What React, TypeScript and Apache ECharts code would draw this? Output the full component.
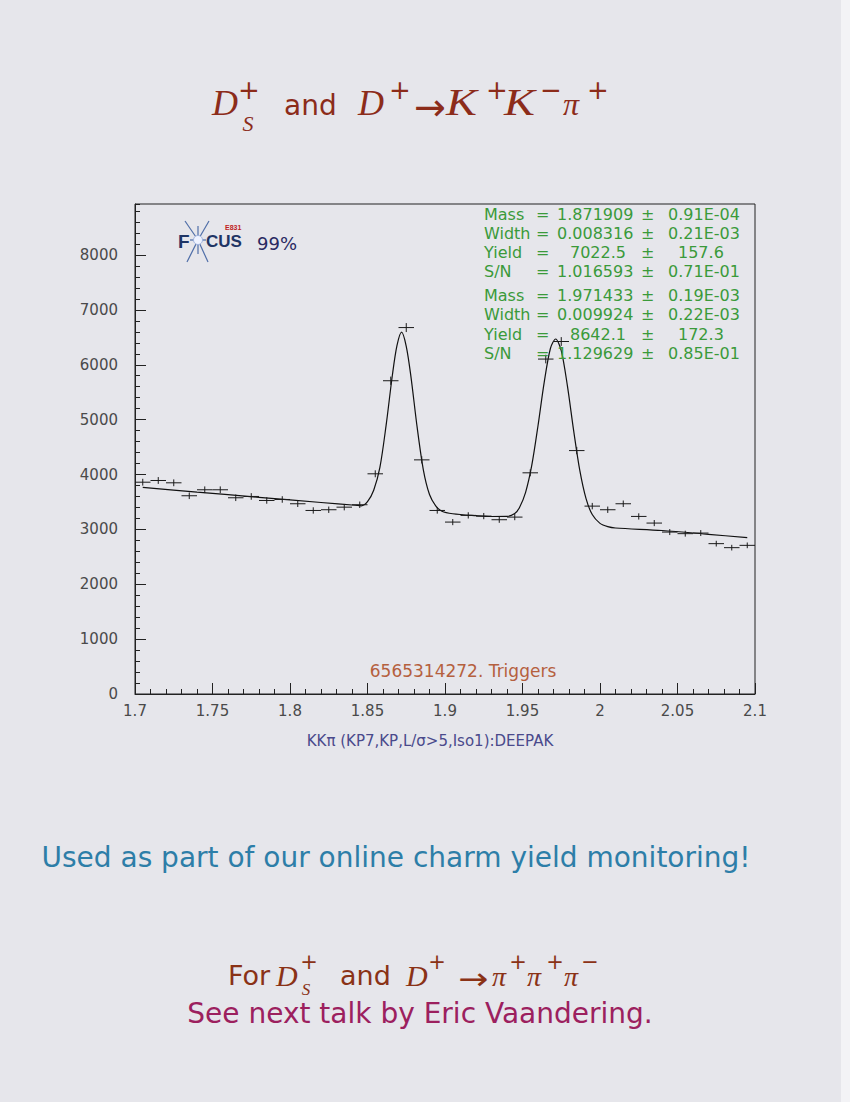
import { useEffect, useRef } from "react";
import * as echarts from "echarts";

// ---- data ----
const binCenters = [
  1.705, 1.715, 1.725, 1.735, 1.745, 1.755, 1.765, 1.775, 1.785, 1.795,
  1.805, 1.815, 1.825, 1.835, 1.845, 1.855, 1.865, 1.875, 1.885, 1.895,
  1.905, 1.915, 1.925, 1.935, 1.945, 1.955, 1.965, 1.975, 1.985, 1.995,
  2.005, 2.015, 2.025, 2.035, 2.045, 2.055, 2.065, 2.075, 2.085, 2.095,
];
const counts = [
  3860, 3891, 3849, 3613, 3722, 3722, 3576, 3600, 3527, 3545,
  3467, 3345, 3358, 3405, 3449, 4013, 5709, 6678, 4267, 3345,
  3133, 3255, 3242, 3176, 3224, 4031, 6104, 6424, 4436, 3424,
  3358, 3467, 3236, 3115, 2951, 2922, 2933, 2740, 2667, 2709,
];
// fit curve, points
const fitX = [
  1.705, 1.74, 1.78, 1.82, 1.842, 1.846, 1.85, 1.854, 1.858, 1.862,
  1.866, 1.869, 1.872, 1.875, 1.878, 1.882, 1.886, 1.89, 1.894, 1.898,
  1.905, 1.92, 1.93, 1.94, 1.945, 1.948, 1.952, 1.956, 1.96, 1.964,
  1.968, 1.9714, 1.975, 1.979, 1.983, 1.987, 1.991, 1.995, 2.0, 2.005,
  2.01, 2.04, 2.07, 2.095,
];
const fitY = [
  3765, 3680, 3585, 3490, 3440, 3430, 3506, 3713, 4130, 4896,
  5800, 6347, 6595, 6337, 5790, 4867, 4091, 3635, 3430, 3330,
  3285, 3250, 3235, 3237, 3290, 3395, 3676, 4170, 4889, 5680,
  6297, 6470, 6258, 5610, 4800, 4070, 3560, 3270, 3110, 3050,
  3025, 2980, 2910, 2849,
];
const statLabels = ["Mass", "Width", "Yield", "S/N"];
const peak1Values = ["1.871909", "0.008316", "7022.5", "1.016593"];
const peak1Errors = ["0.91E-04", "0.21E-03", "157.6", "0.71E-01"];
const peak2Values = ["1.971433", "0.009924", "8642.1", "1.129629"];
const peak2Errors = ["0.19E-03", "0.22E-03", "172.3", "0.85E-01"];
const triggersText = "6565314272. Triggers";
const xAxisTitle = "KKπ (KP7,KP,L/σ>5,Iso1):DEEPAK";

const SERIF_I = (s: number) => `italic ${s}px "Liberation Serif"`;
const SANS = (s: number) => `${s}px "DejaVu Sans"`;

function T(
  text: string,
  x: number,
  y: number,
  font: string,
  fill: string,
  align: string = "left",
  scaleX: number = 1
) {
  return {
    type: "text",
    x,
    y,
    scaleX,
    z: 10,
    style: { text, font, fill, align, verticalAlign: "middle" },
  };
}

export default function App() {
  const ref = useRef<HTMLDivElement>(null);
  useEffect(() => {
    document.body.style.margin = "0";
    const chart = echarts.init(ref.current!, null, { renderer: "svg" });

    const red = "#8c2c1a";
    const title = [
      T("D", 212, 103, SERIF_I(36), red),
      T("+", 249, 90, SANS(26), red, "center"),
      T("S", 248, 123, SERIF_I(22), red, "center"),
      T("and", 284, 105, SANS(28), red),
      T("D", 358, 103, SERIF_I(36), red),
      T("+", 400, 90, SANS(26), red, "center"),
      T("→", 430, 107, SANS(38), red, "center"),
      T("K", 446, 103, SERIF_I(37), red, "left", 1.25),
      T("+", 497, 90, SANS(26), red, "center"),
      T("K", 504, 103, SERIF_I(37), red, "left", 1.25),
      T("−", 551, 90, SANS(26), red, "center"),
      T("π", 563, 104, SERIF_I(32), red),
      T("+", 598, 90, SANS(26), red, "center"),
    ];
    const brown = "#8a3216";
    const footer = [
      T("For", 228, 975, SANS(27), brown),
      T("D", 276, 975, SERIF_I(30), brown),
      T("+", 309, 962, SANS(21), brown, "center"),
      T("S", 306, 989, SERIF_I(17), brown, "center"),
      T("and", 340, 975, SANS(27), brown),
      T("D", 406, 975, SERIF_I(30), brown),
      T("+", 437, 962, SANS(21), brown, "center"),
      T("→", 473, 979, SANS(30), brown, "center", 1.2),
      T("π", 492, 976, SERIF_I(28), brown),
      T("+", 518, 962, SANS(21), brown, "center"),
      T("π", 527, 976, SERIF_I(28), brown),
      T("+", 555, 962, SANS(21), brown, "center"),
      T("π", 564, 976, SERIF_I(28), brown),
      T("−", 590, 962, SANS(21), brown, "center"),
      T("See next talk by Eric Vaandering.", 420, 1013, SANS(28), "#9c205e", "center"),
    ];
    const monitor = [
      T("Used as part of our online charm yield monitoring!", 396, 857, SANS(28), "#2d7ea8", "center"),
    ];

    const green = "#3a9a3a";
    const stats: any[] = [];
    const rowsY = [214, 233.3, 252.7, 271.7, 295.7, 314.3, 334, 353.3];
    for (let g = 0; g < 2; g++) {
      const vals = g === 0 ? peak1Values : peak2Values;
      const errs = g === 0 ? peak1Errors : peak2Errors;
      for (let i = 0; i < 4; i++) {
        const y = rowsY[g * 4 + i];
        const isYield = statLabels[i] === "Yield";
        stats.push(T(statLabels[i], 484, y, SANS(16), green));
        stats.push(T("=", 536, y, SANS(16), green));
        stats.push(T(vals[i], isYield ? 570 : 557, y, SANS(16), green));
        stats.push(T("±", 641, y, SANS(16), green));
        stats.push(T(errs[i], isYield ? 678 : 668, y, SANS(16), green));
      }
    }

    const navy = "#1f3565";
    const cx = 198, cy = 240;
    const spikes = [
      [-13, -19], [11, -19], [-11, 22], [10, 22], [-8, 0], [8, 0], [0, -14], [0, 14],
    ];
    const logo: any[] = spikes.map(([dx, dy]) => ({
      type: "line",
      z: 10,
      shape: { x1: cx, y1: cy, x2: cx + dx, y2: cy + dy },
      style: { stroke: "#4f6ea8", lineWidth: 1.2 },
    }));
    logo.push({
      type: "circle",
      z: 11,
      shape: { cx, cy, r: 4.5 },
      style: { fill: "#eef2ff", stroke: "#9fb3dd", lineWidth: 1 },
    });
    logo.push(T("F", 178, 241, `bold 19px "Liberation Sans"`, navy));
    logo.push(T("CUS", 206, 241, `bold 17px "Liberation Sans"`, navy));
    logo.push(T("E831", 225, 227, `bold 7px "Liberation Sans"`, "#c02222"));
    logo.push(T("99%", 257, 243, SANS(18), "#2a2a62"));

    const others = [
      T(triggersText, 463, 671, SANS(17), "#b5603e", "center"),
      T(xAxisTitle, 430, 741, SANS(15), "#4a4a8c", "center"),
      {
        type: "rect",
        z: 0,
        shape: { x: 841, y: 0, width: 9, height: 1102 },
        style: { fill: "#f3f3f6" },
      },
    ];

    const axisLineStyle = { color: "#222", width: 1 };
    const option: any = {
      animation: false,
      backgroundColor: "#e6e6eb",
      grid: {
        left: 135,
        top: 204,
        width: 620,
        height: 490,
        show: true,
        borderColor: "#222",
        borderWidth: 1,
        backgroundColor: "transparent",
      },
      xAxis: [
        {
          type: "value",
          min: 1.7,
          max: 2.1,
          interval: 0.01,
          position: "bottom",
          axisLine: { show: true, lineStyle: axisLineStyle },
          axisTick: { show: true, inside: true, length: 5, lineStyle: axisLineStyle },
          axisLabel: { show: false },
          splitLine: { show: false },
        },
        {
          type: "value",
          min: 1.7,
          max: 2.1,
          interval: 0.05,
          position: "bottom",
          axisLine: { show: false },
          axisTick: { show: true, inside: true, length: 11, lineStyle: axisLineStyle },
          axisLabel: {
            show: true,
            margin: 9,
            color: "#4a4a4a",
            fontFamily: "DejaVu Sans",
            fontSize: 15,
            formatter: (v: number) => String(+v.toFixed(2)),
          },
          splitLine: { show: false },
        },
      ],
      yAxis: [
        {
          type: "value",
          min: 0,
          max: 8930,
          interval: 200,
          axisLine: { show: true, lineStyle: axisLineStyle },
          axisTick: { show: true, inside: true, length: 5, lineStyle: axisLineStyle },
          axisLabel: { show: false },
          splitLine: { show: false },
        },
        {
          type: "value",
          min: 0,
          max: 8930,
          interval: 1000,
          position: "left",
          axisLine: { show: false },
          axisTick: { show: true, inside: true, length: 11, lineStyle: axisLineStyle },
          axisLabel: {
            show: true,
            margin: 17,
            color: "#4a4a4a",
            fontFamily: "DejaVu Sans",
            fontSize: 15,
            showMaxLabel: false,
            formatter: (v: number) => (Math.round(v) % 1000 === 0 ? String(Math.round(v)) : ""),
          },
          splitLine: { show: false },
        },
      ],
      series: [
        {
          type: "line",
          xAxisIndex: 0,
          yAxisIndex: 0,
          data: fitX.map((x, i) => [x, fitY[i]]),
          smooth: 0.3,
          showSymbol: false,
          symbol: "none",
          lineStyle: { color: "#111", width: 1.2 },
          z: 3,
        },
        {
          type: "custom",
          xAxisIndex: 0,
          yAxisIndex: 0,
          data: binCenters.map((x, i) => [x, counts[i]]),
          renderItem: (_p: any, api: any) => {
            const x = api.value(0);
            const y = api.value(1);
            const e = Math.sqrt(y);
            const l = api.coord([x - 0.005, y]);
            const r = api.coord([x + 0.005, y]);
            const t = api.coord([x, y + e]);
            const b = api.coord([x, y - e]);
            const st = { stroke: "#1a1a1a", lineWidth: 1 };
            return {
              type: "group",
              children: [
                { type: "line", shape: { x1: l[0], y1: l[1], x2: r[0], y2: r[1] }, style: st },
                { type: "line", shape: { x1: t[0], y1: t[1], x2: b[0], y2: b[1] }, style: st },
              ],
            };
          },
          z: 4,
        },
      ],
      graphic: [...others, ...title, ...footer, ...monitor, ...stats, ...logo],
    };
    chart.setOption(option);
    return () => chart.dispose();
  }, []);
  return <div ref={ref} style={{ width: 850, height: 1102 }} />;
}
